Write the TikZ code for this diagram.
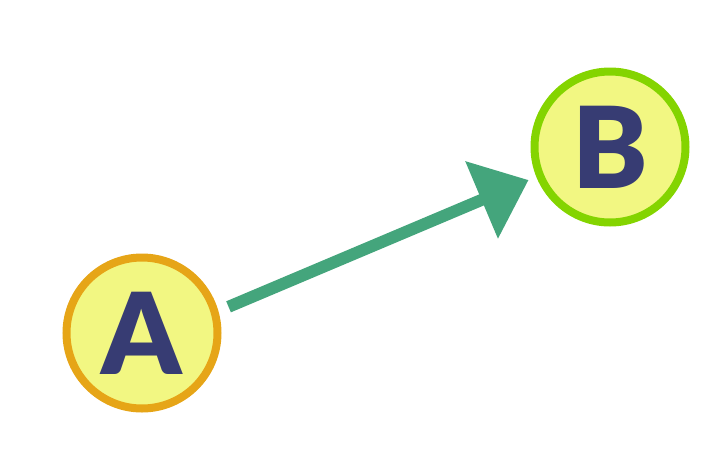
\documentclass[tikz,border=0pt]{standalone}
\usepackage{fontspec}
\newfontfamily\letterfont{Lato Black}
\usetikzlibrary{arrows.meta}
\definecolor{dotfill}{HTML}{F2F782}
\definecolor{rimA}{HTML}{E6A517}
\definecolor{rimB}{HTML}{84D400}
\definecolor{arrowgreen}{HTML}{44A57C}
\definecolor{letterblue}{HTML}{373C73}
\begin{document}
\begin{tikzpicture}[x=1pt,y=-1pt,
		dot/.style={circle, minimum size=151pt, inner sep=0pt, line width=8pt, fill=dotfill, text=letterblue, font=\letterfont\fontsize{113}{113}\selectfont}]
		\useasboundingbox (0,0) rectangle (716,464);
		\node[dot, draw=rimA] (A) at (142,333) {A};
		\node[dot, draw=rimB] (B) at (610,147) {B};
		\draw[arrowgreen, line width=12pt, -{Triangle[length=51pt, width=81pt]}, shorten <=11pt, shorten >=8.4pt] (A.16) -- (B.202);
	\end{tikzpicture}
\end{document}
